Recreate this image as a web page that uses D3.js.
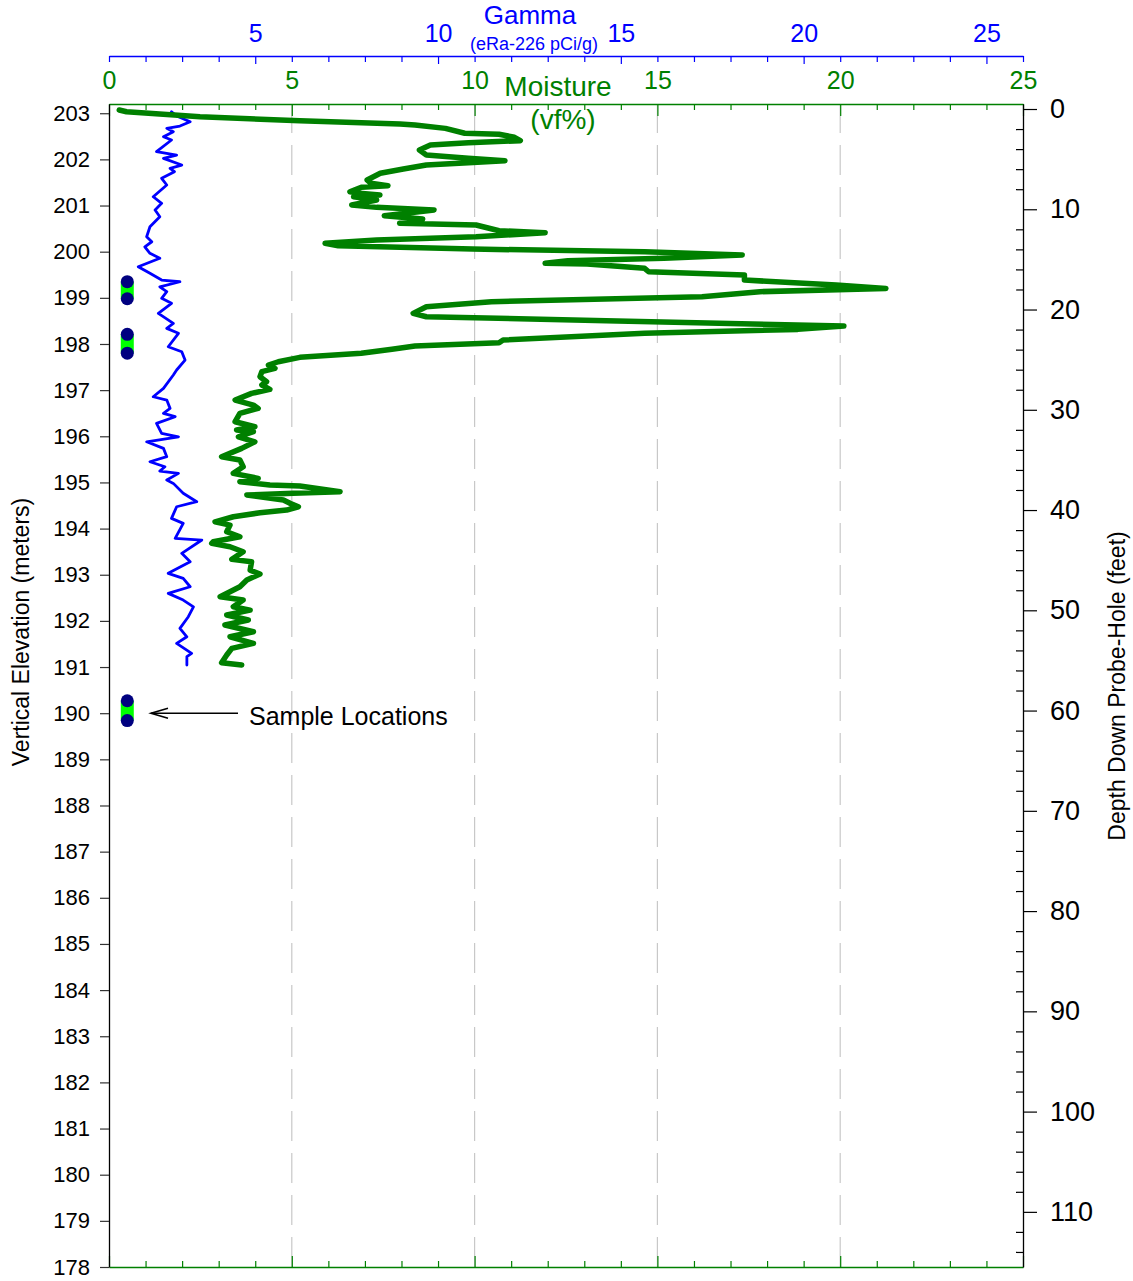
<!DOCTYPE html>
<html lang="en">
<head>
<meta charset="UTF-8" />
<title>Gamma and Moisture Log</title>
<script src="https://d3js.org/d3.v7.min.js"></script>
<style>
  body { margin: 0; background: #fff; }
  svg { display: block; font-family: "Liberation Sans", Arial, sans-serif; }
  .grid { stroke: #c8c8c8; stroke-width: 1.2; stroke-dasharray: 30,12; }
</style>
</head>
<body>
<div id="chart"></div>
<script>
// moisture log: depth (ft) and vf%
const moistDepth = [0.10,0.27,0.77,1.17,1.50,1.60,1.93,2.42,2.52,2.82,
  3.16,3.36,3.59,4.09,4.59,4.92,5.16,5.36,5.59,5.99,
  6.41,7.08,7.41,7.65,7.81,8.25,8.41,8.58,8.75,9.08,
  9.58,9.81,10.07,10.64,10.97,11.40,11.57,12.14,12.34,12.74,
  13.07,13.40,13.64,13.97,14.23,14.56,14.89,15.13,15.39,15.46,
  15.89,16.23,16.56,17.06,17.56,17.89,18.22,18.72,19.22,19.72,
  20.38,20.72,21.12,21.65,21.98,22.37,23.04,23.31,23.64,23.97,
  24.37,24.77,25.21,25.54,25.87,26.20,26.70,27.20,27.53,27.96,
  28.36,29.03,29.53,29.86,30.35,31.19,31.69,32.02,32.19,32.69,
  33.19,33.85,34.68,35.01,35.68,36.34,36.84,37.18,37.51,37.61,
  38.17,38.33,38.50,39.00,39.33,39.67,40.00,40.27,40.67,41.17,
  41.50,42.16,42.66,43.16,43.32,43.66,44.16,44.92,45.16,45.99,
  46.38,46.98,47.65,48.65,48.98,49.65,49.98,50.47,50.97,51.47,
  52.14,52.64,53.30,53.80,54.46,55.23,55.46];
const moistValue = [0.28,0.48,2.49,5.22,7.96,8.37,9.20,9.73,10.67,11.09,
  11.25,9.83,8.79,8.49,8.68,9.83,10.83,9.83,8.68,8.05,
  7.42,7.06,7.16,7.63,6.90,6.59,6.85,7.41,6.69,7.32,
  6.64,7.32,8.89,7.53,8.58,7.95,10.04,10.67,11.93,10.04,
  7.32,5.91,6.27,9.94,14.65,17.32,15.18,12.55,11.93,13.08,
  14.65,14.76,17.38,17.38,19.89,21.25,17.80,16.22,10.46,8.68,
  8.32,8.68,13.60,20.10,18.84,14.65,10.78,10.67,8.37,7.74,
  6.90,5.22,4.63,4.36,4.54,4.18,4.13,4.31,4.18,4.40,
  3.90,3.45,3.95,4.08,3.58,3.45,3.99,3.49,3.95,3.54,
  3.99,3.63,3.08,3.58,3.67,3.40,4.08,3.58,4.40,5.22,
  6.32,5.04,3.77,4.77,4.95,5.18,4.86,4.13,3.40,2.90,
  3.31,3.22,3.58,2.85,2.81,3.31,3.67,3.36,3.90,3.86,
  4.13,3.77,3.58,3.04,3.67,3.40,3.86,3.22,3.81,3.17,
  3.95,3.31,3.95,3.36,3.22,3.08,3.63];

// gamma log: depth (ft) and eRa-226 pCi/g
const gammaDepth = [0.27,0.70,1.27,1.70,1.93,2.26,2.76,3.09,4.26,4.59,
  4.92,5.59,5.92,6.25,6.91,7.58,8.75,9.41,10.07,10.74,
  11.74,12.74,13.24,13.74,14.39,14.89,15.73,16.39,17.06,17.23,
  17.73,18.22,18.88,19.38,20.38,21.38,21.88,22.37,23.71,24.21,
  25.04,26.03,26.53,27.86,28.70,29.03,29.86,30.35,30.69,31.35,
  32.35,32.69,33.19,33.85,34.68,35.18,35.68,36.11,36.34,37.01,
  37.34,38.33,39.17,39.67,40.83,41.33,42.82,42.99,44.32,45.16,
  46.31,46.81,47.65,48.31,48.98,49.65,50.64,51.80,52.64,53.30,
  54.29,54.63,55.46];
const gammaValue = [2.71,2.85,3.22,2.94,2.58,2.76,2.49,2.71,2.30,2.85,
  2.49,2.99,2.67,2.79,2.44,2.58,2.21,2.44,2.26,2.39,
  2.12,2.03,2.17,1.98,2.12,2.39,1.80,2.12,2.44,2.94,
  2.39,2.58,2.44,2.71,2.35,2.76,2.58,2.90,2.62,2.99,
  3.08,2.85,2.76,2.49,2.21,2.58,2.67,2.49,2.81,2.30,
  2.44,2.90,2.03,2.49,2.58,2.12,2.53,2.39,2.90,2.58,
  2.76,3.03,3.40,2.85,2.71,3.03,2.81,3.54,2.99,3.22,
  2.62,3.03,3.22,2.62,3.03,3.31,3.17,2.94,3.13,2.85,
  3.26,3.13,3.13];

// sample intervals (elevation, m)
const sampleTop = [199.35, 198.21, 190.27];
const sampleBottom = [198.98, 197.80, 189.84];
const sampleX = 0.5;
const arrowElev = 190.0;

const elevTicks = d3.range(178, 204);
const depthMajor = d3.range(0, 111, 10);
const depthMinor = d3.range(0, 116, 2).filter(d => d % 10 !== 0);
const moistMajor = [0, 5, 10, 15, 20, 25];
const moistMinor = d3.range(0, 26).filter(d => d % 5 !== 0);
const gammaMajor = [5, 10, 15, 20, 25];
const gammaMinor = d3.range(1, 27).filter(d => d % 5 !== 0);
const gridValues = [5, 10, 15, 20];

const width = 1133, height = 1281;
const plotL = 109, plotR = 1023, plotT = 104, plotB = 1267;
const green = "#008000", blue = "#0000ff";

const svg = d3.select("#chart").append("svg")
  .attr("width", width).attr("height", height);

const xMoist = d3.scaleLinear().domain([0, 25]).range([plotL, plotR]);
const xGamma = d3.scaleLinear().domain([1, 26]).range([plotL, plotR]);
const yElev = d3.scaleLinear().domain([178, 203.2]).range([plotB, plotT]);
const yDepth = d3.scaleLinear().domain([-0.5, 115.5]).range([plotT, plotB]);

// grid
svg.append("g").selectAll("line").data(gridValues).join("line")
  .attr("class", "grid")
  .attr("x1", d => xMoist(d)).attr("x2", d => xMoist(d))
  .attr("y1", plotB).attr("y2", plotT);

function style(g, color, labelSize) {
  g.selectAll("path.domain").attr("stroke", color).attr("stroke-width", 1.3);
  g.selectAll(".tick line").attr("stroke", color).attr("stroke-width", 1.2);
  g.selectAll(".tick text").attr("fill", color).attr("font-size", labelSize)
    .attr("font-family", "'Liberation Sans', Arial, sans-serif");
}

// top moisture axis
svg.append("g").attr("transform", `translate(0,${plotT})`)
  .call(d3.axisTop(xMoist).tickValues(moistMajor).tickSizeInner(-12).tickSizeOuter(0).tickPadding(15))
  .call(g => style(g, green, 25));
svg.append("g").attr("transform", `translate(0,${plotT})`)
  .call(d3.axisTop(xMoist).tickValues(moistMinor).tickSizeInner(-6).tickSizeOuter(0).tickFormat(""))
  .call(g => { g.select(".domain").remove(); style(g, green, 0); });

// bottom moisture axis (no labels)
svg.append("g").attr("transform", `translate(0,${plotB})`)
  .call(d3.axisBottom(xMoist).tickValues(moistMajor).tickSizeInner(-11).tickSizeOuter(0).tickFormat(""))
  .call(g => style(g, green, 0));
svg.append("g").attr("transform", `translate(0,${plotB})`)
  .call(d3.axisBottom(xMoist).tickValues(moistMinor).tickSizeInner(-6).tickSizeOuter(0).tickFormat(""))
  .call(g => { g.select(".domain").remove(); style(g, green, 0); });

// gamma axis
const gammaY = 56;
svg.append("g").attr("transform", `translate(0,${gammaY})`)
  .call(d3.axisTop(xGamma).tickValues(gammaMajor).tickSizeInner(-8).tickSizeOuter(0).tickPadding(14))
  .call(g => style(g, blue, 25));
svg.append("g").attr("transform", `translate(0,${gammaY})`)
  .call(d3.axisTop(xGamma).tickValues(gammaMinor).tickSizeInner(-6).tickSizeOuter(0).tickFormat(""))
  .call(g => { g.select(".domain").remove(); style(g, blue, 0); });

// left elevation axis
svg.append("g").attr("transform", `translate(${plotL},0)`)
  .call(d3.axisLeft(yElev).tickValues(elevTicks).tickSizeInner(9).tickSizeOuter(0).tickPadding(10).tickFormat(d3.format("d")))
  .call(g => style(g, "#000", 22))
  .call(g => g.selectAll(".tick line").attr("stroke", "#333"));

// right depth axis
svg.append("g").attr("transform", `translate(${plotR},0)`)
  .call(d3.axisRight(yDepth).tickValues(depthMajor).tickSizeInner(14).tickSizeOuter(0).tickPadding(13))
  .call(g => style(g, "#000", 27));
svg.append("g").attr("transform", `translate(${plotR},0)`)
  .call(d3.axisLeft(yDepth).tickValues(depthMinor).tickSizeInner(7).tickSizeOuter(0).tickFormat(""))
  .call(g => { g.select(".domain").remove(); style(g, "#000", 0); });

// titles
svg.append("text").attr("x", 530).attr("y", 24).attr("text-anchor", "middle")
  .attr("fill", blue).attr("font-size", 26).text("Gamma");
svg.append("text").attr("x", 534).attr("y", 50).attr("text-anchor", "middle")
  .attr("fill", blue).attr("font-size", 18).text("(eRa-226 pCi/g)");
svg.append("text").attr("x", 558).attr("y", 96).attr("text-anchor", "middle")
  .attr("fill", green).attr("font-size", 28).text("Moisture");
svg.append("text").attr("x", 563).attr("y", 129).attr("text-anchor", "middle")
  .attr("fill", green).attr("font-size", 28).text("(vf%)");

svg.append("text").attr("transform", "translate(29,632) rotate(-90)")
  .attr("text-anchor", "middle").attr("font-size", 23).text("Vertical Elevation (meters)");
svg.append("text").attr("transform", "translate(1125,686) rotate(-90)")
  .attr("text-anchor", "middle").attr("font-size", 23).text("Depth Down Probe-Hole (feet)");

// curves
const moistData = moistDepth.map((d, i) => [d, moistValue[i]]);
const gammaData = gammaDepth.map((d, i) => [d, gammaValue[i]]);

svg.append("path").datum(gammaData)
  .attr("fill", "none").attr("stroke", blue).attr("stroke-width", 2.8)
  .attr("stroke-linejoin", "round").attr("stroke-linecap", "round")
  .attr("d", d3.line().x(d => xGamma(d[1])).y(d => yDepth(d[0])));

svg.append("path").datum(moistData)
  .attr("fill", "none").attr("stroke", green).attr("stroke-width", 5.5)
  .attr("stroke-linejoin", "round").attr("stroke-linecap", "round")
  .attr("d", d3.line().x(d => xMoist(d[1])).y(d => yDepth(d[0])));

// sample locations
const samples = sampleTop.map((t, i) => ({ top: t, bottom: sampleBottom[i] }));
const sg = svg.append("g");
sg.selectAll("rect").data(samples).join("rect")
  .attr("x", xMoist(sampleX) - 6.5).attr("width", 13)
  .attr("y", d => yElev(d.top)).attr("height", d => yElev(d.bottom) - yElev(d.top))
  .attr("fill", "#00ff00");
samples.forEach(s => {
  [s.top, s.bottom].forEach(e => {
    sg.append("circle").attr("cx", xMoist(sampleX)).attr("cy", yElev(e))
      .attr("r", 6.5).attr("fill", "#000080");
  });
});

// arrow + label
const ay = yElev(arrowElev);
const ag = svg.append("g").attr("stroke", "#000").attr("stroke-width", 1.6).attr("fill", "none");
ag.append("line").attr("x1", 238).attr("x2", 151).attr("y1", ay).attr("y2", ay);
ag.append("polyline").attr("points", `168,${ay - 5} 151,${ay} 168,${ay + 5}`);
svg.append("text").attr("x", 249).attr("y", ay + 12).attr("font-size", 25).text("Sample Locations");
</script>
</body>
</html>
